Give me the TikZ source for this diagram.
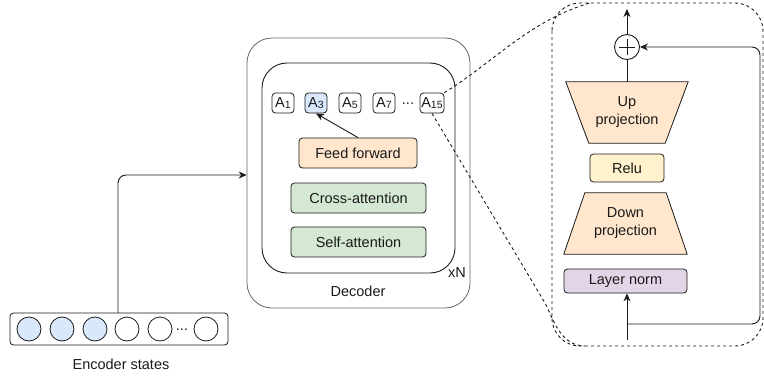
\documentclass[tikz,border=0pt]{standalone}
\usepackage{fontspec}
\setmainfont{Liberation Sans}
\usetikzlibrary{arrows.meta,calc}
\definecolor{orangef}{HTML}{FFE6CC}
\definecolor{greenf}{HTML}{D5E8D4}
\definecolor{bluef}{HTML}{DAE8FC}
\definecolor{yellowf}{HTML}{FFF2CC}
\definecolor{purplef}{HTML}{E1D5E7}
\definecolor{strk}{HTML}{1A1A1A}
\begin{document}
\begin{tikzpicture}[x=1pt,y=-1pt,
  font=\fontsize{14.5}{17}\selectfont,
  every node/.style={inner sep=0pt, text=strk},
  blk/.style={draw=strk, line width=0.8pt, rounded corners=3.5pt},
  abox/.style={blk, minimum width=22pt, minimum height=20pt},
  enc/.style={draw=strk, line width=0.8pt, circle, minimum size=24pt},
  ln/.style={draw=strk, line width=0.9pt},
  arr/.style={ln, -{Stealth[length=8pt,width=7pt]}},
  dsh/.style={draw=strk, line width=0.9pt, dash pattern=on 3pt off 3pt},
  two/.style={align=center, font=\fontsize{14.5}{18}\selectfont}]
\useasboundingbox (0,0) rectangle (764,378);
\newcommand{\Asub}[1]{A\raisebox{-0.5pt}{\fontsize{10.5}{10.5}\selectfont #1}}

% Decoder
\node[draw=black!60, line width=0.8pt, rounded corners=25pt, minimum width=223pt, minimum height=270pt] (dec) at (358.5,173) {};
\node[draw=strk, line width=0.9pt, rounded corners=25pt, minimum width=193pt, minimum height=210pt] (inner) at (358.5,168) {};
\node (xn) at (457,273) {xN};
\node (declab) at (358,291) {Decoder};

\node[abox] (a1) at (283,103) {\Asub{1}};
\node[abox, fill=bluef] (a3) at (316,103) {\Asub{3}};
\node[abox] (a5) at (350,103) {\Asub{5}};
\node[abox] (a7) at (384,103) {\Asub{7}};
\node (adots) at (408,104) {...};
\node[abox, minimum width=24pt] (a15) at (432,103) {\Asub{15}};

\node[blk, fill=orangef, minimum width=118pt, minimum height=30pt] (ff) at (358,153) {Feed forward};
\node[blk, fill=greenf, minimum width=135pt, minimum height=30pt] (ca) at (358.5,198) {Cross-attention};
\node[blk, fill=greenf, minimum width=135pt, minimum height=30pt] (sa) at (358.5,242) {Self-attention};
\draw[arr] (ff.north) -- (a3.south);

% Encoder
\node[blk, minimum width=218pt, minimum height=32pt] (encbox) at (119,329) {};
\node[enc, fill=bluef] (e1) at (29,329) {};
\node[enc, fill=bluef] (e2) at (62,329) {};
\node[enc, fill=bluef] (e3) at (95,329) {};
\node[enc] (e4) at (127,329) {};
\node[enc] (e5) at (160,329) {};
\node (edots) at (182,330) {...};
\node[enc] (e6) at (206,329) {};
\node (enclab) at (121,364) {Encoder states};
\coordinate (eup) at (118,313);
\draw[arr, rounded corners=8pt] (eup) |- (dec.west |- 0,175);

% Zoom bubble
\draw[dsh, rounded corners=28pt] (552,3) rectangle (763,346);
\draw[dsh] (a15.north east) .. controls (490,65) and (530,20) .. (590,3);
\draw[dsh] (a15.south) -- (545,303) .. controls (553,318) and (560,346) .. (585,346);

% Adapter
\node[draw=strk, line width=0.9pt, circle, minimum size=25pt] (plus) at (627,47) {};
\draw[ln] ($(plus.center)+(-8,0)$) -- ($(plus.center)+(8,0)$);
\draw[ln] ($(plus.center)+(0,-8)$) -- ($(plus.center)+(0,8)$);
\coordinate (top) at (627,9);
\draw[arr] (plus.north) -- (top);

\node[minimum width=122pt, minimum height=61pt] (up) at (627,112.5) {};
\draw[blk, rounded corners=0pt, fill=orangef] (up.north west) -- (up.north east) -- ($(up.south east)+(-23,0)$) -- ($(up.south west)+(23,0)$) -- cycle;
\node[two] at (up.center) {Up\\projection};
\draw[ln] (up.north) -- (plus.south);

\node[blk, fill=yellowf, minimum width=74pt, minimum height=28pt] (relu) at (627,168) {Relu};

\node[minimum width=123pt, minimum height=61pt] (down) at (625.5,223.5) {};
\draw[blk, rounded corners=0pt, fill=orangef] ($(down.north west)+(21,0)$) -- ($(down.north east)+(-21,0)$) -- (down.south east) -- (down.south west) -- cycle;
\node[two] at (down.center) {Down\\projection};

\node[blk, fill=purplef, minimum width=123pt, minimum height=24pt] (lnorm) at (625.5,281) {Layer norm};
\coordinate (inp) at (627,340);
\coordinate (br) at (627,324);
\draw[arr] (inp) -- (lnorm.south -| inp);
\draw[arr, rounded corners=8pt] (br) -- (760,324) -- (760,47) -- (plus.east);
\end{tikzpicture}
\end{document}
